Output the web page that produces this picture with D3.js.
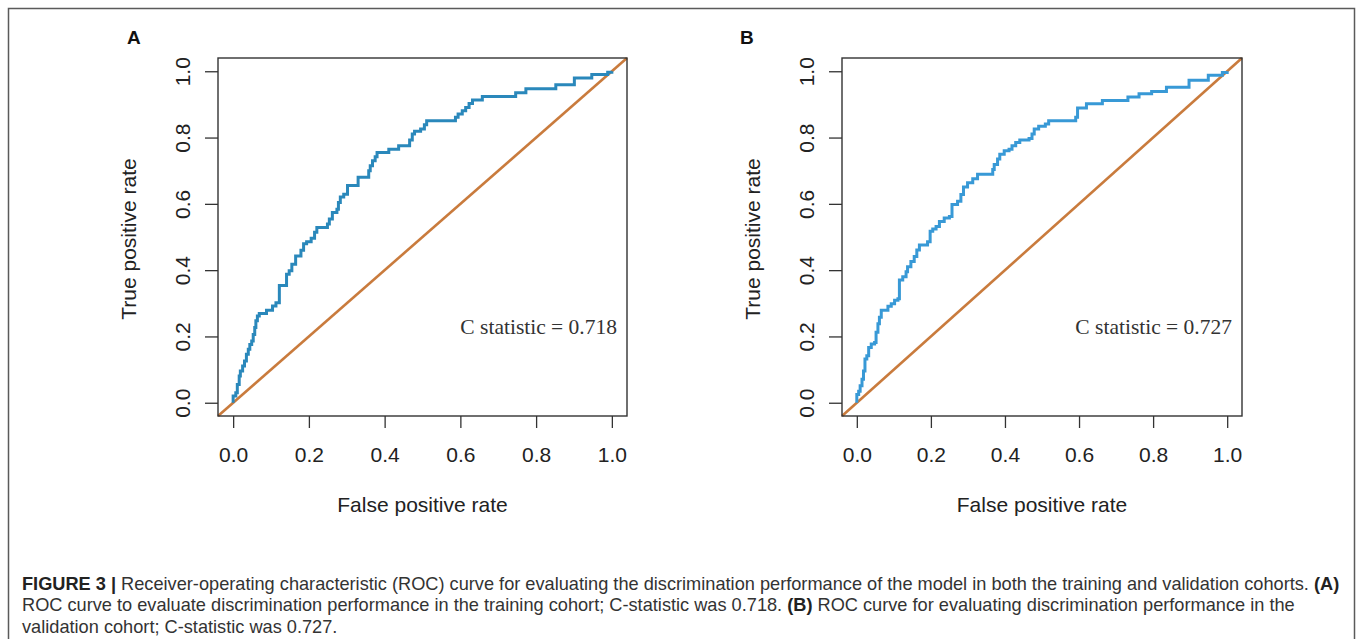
<!DOCTYPE html>
<html lang="en">

<head>
    <meta charset="UTF-8">
    <title>ROC curves - training and validation cohorts</title>
    <script src="https://d3js.org/d3.v7.min.js"></script>
    <style>
        body {
            margin: 0;
            background: #fff;
        }

        text {
            font-family: "Liberation Sans", Arial, Helvetica, sans-serif;
        }
    </style>
</head>

<body>
    <div id="chart"></div>
    <script>
        const width = 1358;
        const height = 639;

        // axis ticks
        const ticks = [0, 0.2, 0.4, 0.6, 0.8, 1.0];

        // panel A (training cohort)
        const fprA = [0, 0, 0.007, 0.011, 0.016, 0.019, 0.025, 0.030, 0.035, 0.040, 0.044, 0.049, 0.053, 0.057, 0.060,
            0.064, 0.069, 0.088, 0.104, 0.113, 0.122, 0.141, 0.148, 0.155, 0.165, 0.179, 0.186, 0.194, 0.206, 0.215,
            0.221, 0.249, 0.254, 0.262, 0.274, 0.278, 0.283, 0.292, 0.302, 0.330, 0.358, 0.362, 0.368, 0.375, 0.380,
            0.411, 0.437, 0.466, 0.473, 0.479, 0.495, 0.505, 0.511, 0.587, 0.594, 0.605, 0.614, 0.623, 0.632, 0.658,
            0.746, 0.773, 0.852, 0.901, 0.947, 0.989, 1.0];
        const tprA = [0, 0.020, 0.030, 0.055, 0.081, 0.096, 0.111, 0.126, 0.146, 0.161, 0.176, 0.186, 0.206, 0.227, 0.247,
            0.262, 0.269, 0.279, 0.292, 0.302, 0.354, 0.388, 0.398, 0.418, 0.443, 0.460, 0.480, 0.486, 0.496, 0.514,
            0.529, 0.539, 0.554, 0.574, 0.584, 0.604, 0.621, 0.629, 0.655, 0.680, 0.700, 0.715, 0.730, 0.742, 0.755,
            0.765, 0.775, 0.793, 0.811, 0.819, 0.826, 0.839, 0.851, 0.861, 0.871, 0.881, 0.891, 0.903, 0.913, 0.924,
            0.935, 0.947, 0.959, 0.980, 0.990, 0.997, 1.0];

        // panel B (validation cohort)
        const fprB = [0, 0, 0.005, 0.009, 0.014, 0.018, 0.022, 0.027, 0.032, 0.039, 0.048, 0.052, 0.057, 0.061, 0.066,
            0.084, 0.093, 0.102, 0.111, 0.115, 0.124, 0.133, 0.137, 0.146, 0.155, 0.162, 0.169, 0.191, 0.198, 0.205,
            0.214, 0.223, 0.236, 0.250, 0.257, 0.272, 0.281, 0.288, 0.299, 0.313, 0.326, 0.367, 0.371, 0.380, 0.386,
            0.398, 0.411, 0.419, 0.429, 0.440, 0.465, 0.473, 0.479, 0.491, 0.509, 0.518, 0.591, 0.596, 0.620, 0.663,
            0.732, 0.762, 0.796, 0.836, 0.897, 0.949, 0.987, 1.0];
        const tprB = [0, 0.025, 0.035, 0.051, 0.071, 0.096, 0.132, 0.142, 0.167, 0.177, 0.182, 0.213, 0.238, 0.258, 0.279,
            0.291, 0.299, 0.309, 0.314, 0.370, 0.380, 0.395, 0.410, 0.426, 0.441, 0.461, 0.476, 0.486, 0.517, 0.524,
            0.532, 0.547, 0.557, 0.562, 0.598, 0.608, 0.628, 0.651, 0.664, 0.676, 0.689, 0.704, 0.719, 0.735, 0.750,
            0.760, 0.765, 0.775, 0.785, 0.793, 0.797, 0.811, 0.826, 0.834, 0.841, 0.851, 0.861, 0.889, 0.902, 0.912,
            0.922, 0.932, 0.939, 0.952, 0.973, 0.988, 0.996, 1.0];

        const panelLabels = ["A", "B"];
        const cStats = ["0.718", "0.727"];

        const captionLines = [
            [["FIGURE 3 | ", true], ["Receiver-operating characteristic (ROC) curve for evaluating the discrimination performance of the model in both the training and validation cohorts. ", false], ["(A)", true]],
            [["ROC curve to evaluate discrimination performance in the training cohort; C-statistic was 0.718. ", false], ["(B)", true], [" ROC curve for evaluating discrimination performance in the", false]],
            [["validation cohort; C-statistic was 0.727.", false]]
        ];

        // layout of the two panels
        const layout = [
            { left: 218, right: 627, labelX: 127, color: "#2a88bb", fpr: fprA, tpr: tprA },
            { left: 842, right: 1242, labelX: 740, color: "#3899d6", fpr: fprB, tpr: tprB }
        ];
        const plotTop = 58, plotBottom = 416;
        const sans = "'Liberation Sans', Arial, Helvetica, sans-serif";

        const svg = d3.select("#chart")
            .append("svg")
            .attr("width", width)
            .attr("height", height);

        // outer frame
        svg.append("rect")
            .attr("x", 8.5)
            .attr("y", 8.5)
            .attr("width", 1346)
            .attr("height", 640)
            .attr("fill", "none")
            .attr("stroke", "#5a5a5a")
            .attr("stroke-width", 1.5);

        layout.forEach(function (p, i) {
            const x = d3.scaleLinear().domain([-0.04, 1.04]).range([p.left, p.right]);
            const y = d3.scaleLinear().domain([-0.04, 1.04]).range([plotBottom, plotTop]);
            const g = svg.append("g");

            // x axis
            const xAxis = g.append("g")
                .attr("transform", `translate(0,${plotBottom})`)
                .call(d3.axisBottom(x).tickValues(ticks).tickFormat(d3.format(".1f")).tickSize(12).tickPadding(19));
            xAxis.select(".domain").remove();

            // y axis, labels parallel to the axis as R does
            const yAxis = g.append("g")
                .attr("transform", `translate(${p.left},0)`)
                .call(d3.axisLeft(y).tickValues(ticks).tickFormat(d3.format(".1f")).tickSize(13));
            yAxis.select(".domain").remove();
            yAxis.selectAll(".tick text")
                .attr("x", null)
                .attr("dy", null)
                .attr("text-anchor", "middle")
                .attr("transform", "translate(-28,0) rotate(-90)");

            xAxis.attr("font-family", sans).attr("font-size", 21);
            yAxis.attr("font-family", sans).attr("font-size", 21);
            g.selectAll(".tick line").attr("stroke", "#333").attr("stroke-width", 1.3);
            g.selectAll(".tick text").attr("fill", "#222");

            // diagonal reference line
            g.append("line")
                .attr("x1", x(-0.04)).attr("y1", y(-0.04))
                .attr("x2", x(1.04)).attr("y2", y(1.04))
                .attr("stroke", "#c97b3d")
                .attr("stroke-width", 2.6);

            // ROC step curve
            const points = p.fpr.map((f, k) => [f, p.tpr[k]]);
            const line = d3.line()
                .x(d => x(d[0]))
                .y(d => y(d[1]))
                .curve(d3.curveStepAfter);
            g.append("path")
                .datum(points)
                .attr("d", line)
                .attr("fill", "none")
                .attr("stroke", p.color)
                .attr("stroke-width", 3)
                .attr("stroke-linejoin", "miter");

            // plot box
            g.append("rect")
                .attr("x", p.left)
                .attr("y", plotTop)
                .attr("width", p.right - p.left)
                .attr("height", plotBottom - plotTop)
                .attr("fill", "none")
                .attr("stroke", "#333")
                .attr("stroke-width", 1.4);

            // axis titles
            g.append("text")
                .attr("x", (p.left + p.right) / 2)
                .attr("y", 512)
                .attr("text-anchor", "middle")
                .attr("font-size", 21)
                .attr("fill", "#222")
                .text("False positive rate");
            g.append("text")
                .attr("transform", `translate(${p.left - 82},${(plotTop + plotBottom) / 2 + 2}) rotate(-90)`)
                .attr("text-anchor", "middle")
                .attr("font-size", 21)
                .attr("fill", "#222")
                .text("True positive rate");

            // C statistic
            g.append("text")
                .attr("x", p.right - 10)
                .attr("y", 334)
                .attr("text-anchor", "end")
                .attr("font-size", 21.5)
                .attr("fill", "#333")
                .style("font-family", "'Liberation Serif', 'Times New Roman', serif")
                .text("C statistic = " + cStats[i]);

            // panel letter
            g.append("text")
                .attr("x", p.labelX)
                .attr("y", 44)
                .attr("font-size", 19)
                .attr("font-weight", "bold")
                .attr("fill", "#111")
                .text(panelLabels[i]);
        });

        // caption
        const caption = svg.append("text")
            .attr("font-size", 18.2)
            .attr("fill", "#333");
        captionLines.forEach(function (parts, i) {
            const t = caption.append("tspan")
                .attr("x", 22)
                .attr("y", 590 + i * 21.3);
            parts.forEach(function (part) {
                t.append("tspan")
                    .attr("font-weight", part[1] ? "bold" : "normal")
                    .attr("fill", part[1] ? "#222" : "#333")
                    .text(part[0]);
            });
        });
    </script>
</body>

</html>
